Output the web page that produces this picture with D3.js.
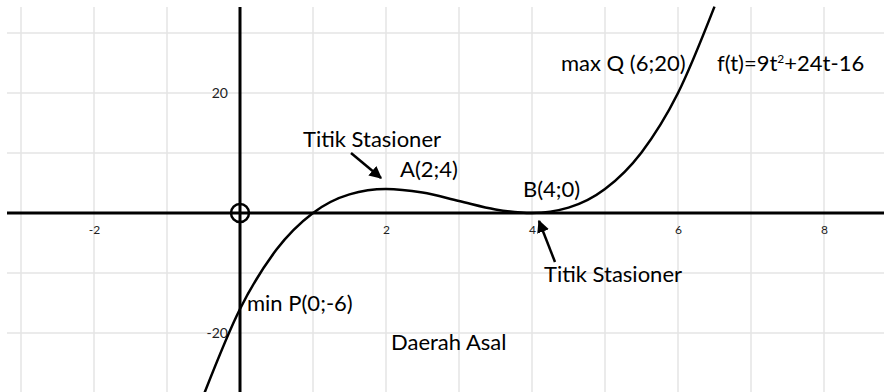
<!DOCTYPE html>
<html>
<head>
<meta charset="utf-8">
<script src="https://cdn.jsdelivr.net/npm/d3@7"></script>
<style>
  body { margin: 0; background: #fff; }
  text { font-family: Lato, "Noto Sans", sans-serif; }
</style>
</head>
<body>
<div id="chart"></div>
<script>
var tValues = [-0.5, 0, 0.5, 1, 1.5, 2, 2.5, 3, 3.5, 4, 4.5, 5, 5.5, 6, 6.5];
var fValues = [-30.4, -16, -6.1, 0, 3.1, 4, 3.4, 2, 0.6, 0, 0.9, 4, 10.1, 20, 34.4];

var xTicks = [-2, 2, 4, 6, 8];
var yTicks = [-20, 20];
var xGrid = [-3, -2, -1, 0, 1, 2, 3, 4, 5, 6, 7, 8];
var yGrid = [-30, -20, -10, 0, 10, 20, 30];

var w = 884;
var h = 392;
var gridTop = 7;
var gridLeft = 7;

var x = d3.scaleLinear().domain([0, 8]).range([240, 240 + 8 * 73]);
var y = d3.scaleLinear().domain([0, 20]).range([213, 93]);

var svg = d3.select("#chart")
    .append("svg")
    .attr("width", w)
    .attr("height", h);

svg.append("defs").append("marker")
    .attr("id", "head")
    .attr("viewBox", "0 0 10 10")
    .attr("refX", 9)
    .attr("refY", 5)
    .attr("markerWidth", 5)
    .attr("markerHeight", 5)
    .attr("orient", "auto")
  .append("path")
    .attr("d", "M0,0L10,5L0,10z")
    .style("fill", "#000");

// grid
svg.append("g").selectAll("line")
    .data(xGrid)
    .enter().append("line")
    .attr("x1", function (d) { return x(d); })
    .attr("x2", function (d) { return x(d); })
    .attr("y1", gridTop)
    .attr("y2", h)
    .style("stroke", "#e4e4e4")
    .style("stroke-width", 1.5);

svg.append("g").selectAll("line")
    .data(yGrid)
    .enter().append("line")
    .attr("x1", gridLeft)
    .attr("x2", w)
    .attr("y1", function (d) { return y(d); })
    .attr("y2", function (d) { return y(d); })
    .style("stroke", "#e4e4e4")
    .style("stroke-width", 1.5);

// tick labels (plain hyphen for negatives, like the original)
var fmt = function (d) { return String(d); };

var xAxis = svg.append("g")
    .attr("transform", "translate(0," + y(0) + ")")
    .call(d3.axisBottom(x).tickValues(xTicks).tickFormat(fmt).tickSize(0).tickPadding(12));
xAxis.select(".domain").remove();
xAxis.selectAll("text")
    .style("font-size", "12px")
    .style("fill", "#222");

var yAxis = svg.append("g")
    .attr("transform", "translate(" + x(0) + ",0)")
    .call(d3.axisLeft(y).tickValues(yTicks).tickFormat(fmt).tickSize(0).tickPadding(12));
yAxis.select(".domain").remove();
yAxis.selectAll("text")
    .style("font-size", "14px")
    .style("fill", "#222");

// main axes
svg.append("line")
    .attr("x1", gridLeft)
    .attr("x2", w)
    .attr("y1", y(0))
    .attr("y2", y(0))
    .style("stroke", "#000")
    .style("stroke-width", 3);

svg.append("line")
    .attr("x1", x(0))
    .attr("x2", x(0))
    .attr("y1", gridTop)
    .attr("y2", h)
    .style("stroke", "#000")
    .style("stroke-width", 3);

svg.append("circle")
    .attr("cx", x(0))
    .attr("cy", y(0))
    .attr("r", 9)
    .style("fill", "none")
    .style("stroke", "#000")
    .style("stroke-width", 2.5);

// curve
var points = tValues.map(function (t, i) { return [t, fValues[i]]; });

var line = d3.line()
    .x(function (d) { return x(d[0]); })
    .y(function (d) { return y(d[1]); })
    .curve(d3.curveMonotoneX);

svg.append("path")
    .datum(points)
    .attr("d", line)
    .style("fill", "none")
    .style("stroke", "#000")
    .style("stroke-width", 2.5);

// annotations
function label(tx, ty, s) {
  return svg.append("text")
      .attr("x", tx)
      .attr("y", ty)
      .style("font-size", "22px")
      .style("fill", "#000")
      .text(s);
}

label(303, 147, "Titik Stasioner");
label(400, 177, "A(2;4)");
label(523, 197, "B(4;0)");
label(544, 282, "Titik Stasioner");
label(561, 71, "max Q (6;20)");
label(247, 311, "min P(0;-6)");
label(391, 350, "Daerah Asal");

var ft = label(717, 71, "f(t)=9t");
ft.append("tspan").attr("dy", -8).style("font-size", "12px").text("2");
ft.append("tspan").attr("dy", 8).text("+24t-16");

svg.append("line")
    .attr("x1", 351).attr("y1", 153)
    .attr("x2", 381).attr("y2", 178)
    .style("stroke", "#000")
    .style("stroke-width", 2.5)
    .attr("marker-end", "url(#head)");

svg.append("line")
    .attr("x1", 555).attr("y1", 262)
    .attr("x2", 539).attr("y2", 221)
    .style("stroke", "#000")
    .style("stroke-width", 2.5)
    .attr("marker-end", "url(#head)");
</script>
</body>
</html>
